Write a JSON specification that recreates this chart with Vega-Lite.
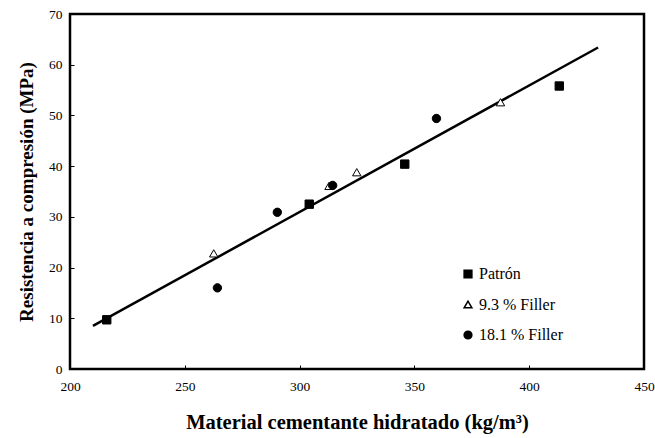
{
  "$schema": "https://vega.github.io/schema/vega-lite/v6.json",
  "width": 574,
  "height": 355,
  "autosize": {"type": "none"},
  "padding": {"left": 70, "top": 14, "right": 11, "bottom": 69},
  "background": "white",
  "config": {
    "font": "Liberation Serif",
    "view": {"stroke": "black", "strokeWidth": 2.5},
    "legend": {"labelFont": "Liberation Serif"},
    "axis": {
      "grid": false,
      "domain": false,
      "tickColor": "black",
      "tickSize": -4,
      "tickWidth": 1,
      "labelFlush": false,
      "labelColor": "black",
      "labelFont": "Liberation Serif",
      "labelFontSize": 13.5,
      "titleFont": "Liberation Serif",
      "titleFontWeight": "bold",
      "titleColor": "black"
    }
  },
  "datasets": {
    "pts": [
      {"x": 216, "y": 9.7, "serie": "Patrón"},
      {"x": 304.2, "y": 32.5, "serie": "Patrón"},
      {"x": 345.8, "y": 40.4, "serie": "Patrón"},
      {"x": 413.1, "y": 55.8, "serie": "Patrón"},
      {"x": 262.6, "y": 22.8, "serie": "9.3 % Filler"},
      {"x": 312.8, "y": 36.1, "serie": "9.3 % Filler"},
      {"x": 324.9, "y": 38.8, "serie": "9.3 % Filler"},
      {"x": 387.5, "y": 52.6, "serie": "9.3 % Filler"},
      {"x": 264.2, "y": 16.0, "serie": "18.1 % Filler"},
      {"x": 290.3, "y": 30.9, "serie": "18.1 % Filler"},
      {"x": 314.4, "y": 36.2, "serie": "18.1 % Filler"},
      {"x": 359.6, "y": 49.4, "serie": "18.1 % Filler"}
    ],
    "fit": [
      {"x": 210, "y": 8.5},
      {"x": 430, "y": 63.4}
    ]
  },
  "layer": [
    {
      "data": {"name": "fit"},
      "mark": {"type": "line", "color": "black", "strokeWidth": 2.5},
      "encoding": {
        "x": {"field": "x", "type": "quantitative"},
        "y": {"field": "y", "type": "quantitative"}
      }
    },
    {
      "data": {"name": "pts"},
      "mark": {"type": "point", "filled": false, "strokeWidth": 1, "opacity": 1, "size": 70},
      "encoding": {
        "x": {
          "field": "x", "type": "quantitative",
          "scale": {"domain": [200, 450], "nice": false, "zero": false},
          "axis": {"values": [200, 250, 300, 350, 400, 450], "labelPadding": 14, "title": "Material cementante hidratado (kg/m³)", "titleFontSize": 20.5, "titlePadding": 20}
        },
        "y": {
          "field": "y", "type": "quantitative",
          "scale": {"domain": [0, 70], "nice": false},
          "axis": {"values": [0, 10, 20, 30, 40, 50, 60, 70], "labelPadding": 12, "title": "Resistencia a compresión (MPa)", "titleFontSize": 19, "titlePadding": 12}
        },
        "stroke": {"value": "black"},
        "shape": {
          "field": "serie", "type": "nominal",
          "scale": {"domain": ["Patrón", "9.3 % Filler", "18.1 % Filler"], "range": ["square", "triangle-up", "circle"]},
          "legend": {
            "orient": "none", "legendX": 390, "legendY": 252, "title": null,
            "labelFontSize": 16, "labelColor": "black",
            "symbolSize": 60,
            "rowPadding": 14.5, "labelOffset": 3,
            "encode": {"symbols": {"update": {"stroke": {"value": "black"}, "strokeWidth": {"value": 1}}}}
          }
        },
        "fill": {
          "field": "serie", "type": "nominal",
          "scale": {"domain": ["Patrón", "9.3 % Filler", "18.1 % Filler"], "range": ["black", "white", "black"]},
          "legend": null
        }
      }
    }
  ]
}
